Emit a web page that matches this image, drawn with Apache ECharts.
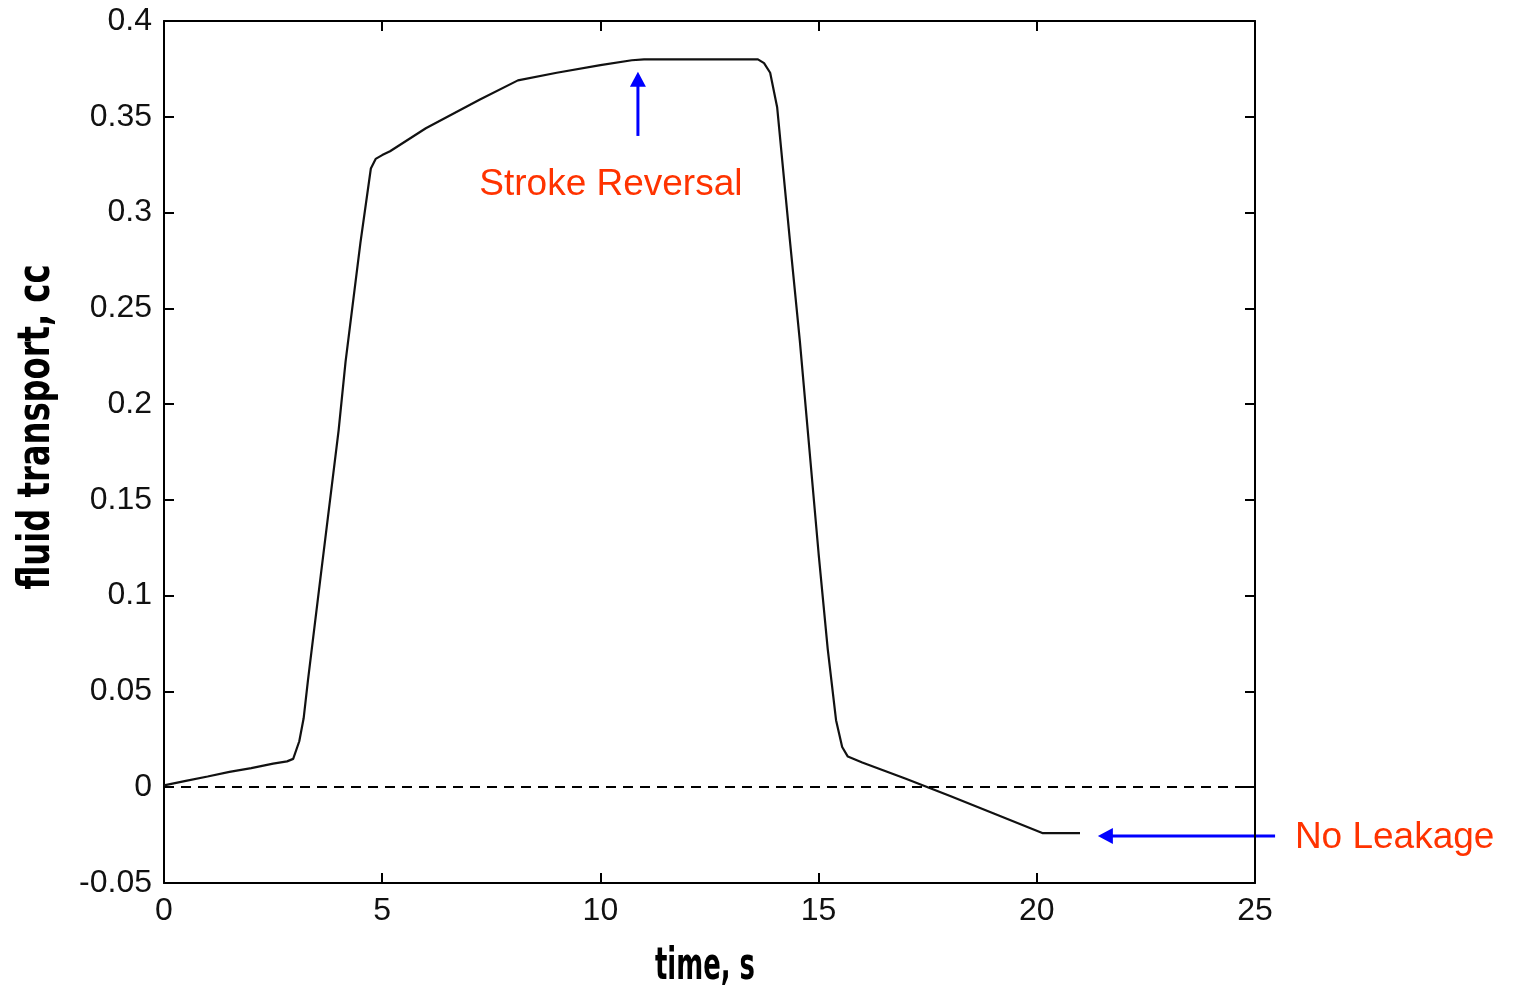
<!DOCTYPE html>
<html>
<head>
<meta charset="utf-8">
<script src="https://cdn.jsdelivr.net/npm/echarts@6/dist/echarts.min.js"></script>
<style>
html,body{margin:0;padding:0;background:#fff;}
#chart{width:1513px;height:991px;}
</style>
</head>
<body>
<div id="chart"></div>
<script>
var timeS = [0, 0.5, 1, 1.5, 2, 2.5, 2.82, 2.96, 3.1, 3.2, 3.3, 3.6, 4.0, 4.16, 4.5, 4.74, 4.85, 5.0, 5.18, 6.0, 7.24, 8.11, 9.0, 10.0, 10.72, 11.0, 12.0, 13.0, 13.61, 13.75, 13.89, 14.05, 14.34, 14.57, 15.0, 15.21, 15.4, 15.54, 15.67, 16.0, 17.0, 17.5, 18.0, 19.0, 20.14, 20.99];
var transport = [0.001, 0.0033, 0.0056, 0.008, 0.010, 0.0123, 0.0135, 0.0148, 0.024, 0.036, 0.056, 0.112, 0.186, 0.222, 0.284, 0.323, 0.328, 0.330, 0.332, 0.344, 0.359, 0.369, 0.373, 0.377, 0.3795, 0.380, 0.380, 0.380, 0.380, 0.378, 0.373, 0.355, 0.286, 0.233, 0.122, 0.072, 0.035, 0.021, 0.016, 0.0129, 0.0044, 0.0, -0.0045, -0.0136, -0.024, -0.024];
var xTicks = [0, 5, 10, 15, 20, 25];
var yTicks = [-0.05, 0, 0.05, 0.1, 0.15, 0.2, 0.25, 0.3, 0.35, 0.4];
var xTitle = 'time, s';
var yTitle = 'fluid transport, cc';

var chart = echarts.init(document.getElementById('chart'));
var tickFont = {fontFamily: 'Liberation Sans, Arial, sans-serif', fontSize: 32, color: '#111'};
var data = timeS.map(function (t, i) { return [t, transport[i]]; });

function yFmt(v) {
  var r = Math.round(v * 100) / 100;
  return String(r);
}

chart.setOption({
  animation: false,
  backgroundColor: '#ffffff',
  grid: {left: 164, right: 258, top: 21, bottom: 108, show: false},
  xAxis: [{
    type: 'value', min: 0, max: 25, interval: 5, position: 'bottom',
    axisLine: {show: true, onZero: false, lineStyle: {color: '#000', width: 2}},
    axisTick: {show: true, inside: true, length: 10, lineStyle: {color: '#000', width: 2}},
    axisLabel: Object.assign({margin: 12}, tickFont),
    splitLine: {show: false}
  }, {
    type: 'value', min: 0, max: 25, interval: 5, position: 'top',
    axisLine: {show: true, onZero: false, lineStyle: {color: '#000', width: 2}},
    axisTick: {show: true, inside: true, length: 10, lineStyle: {color: '#000', width: 2}},
    axisLabel: {show: false}, splitLine: {show: false}
  }],
  yAxis: [{
    type: 'value', min: -0.05, max: 0.4, interval: 0.05, position: 'left',
    axisLine: {show: true, onZero: false, lineStyle: {color: '#000', width: 2}},
    axisTick: {show: true, inside: true, length: 10, lineStyle: {color: '#000', width: 2}},
    axisLabel: Object.assign({margin: 12, formatter: yFmt}, tickFont),
    splitLine: {show: false}
  }, {
    type: 'value', min: -0.05, max: 0.4, interval: 0.05, position: 'right',
    axisLine: {show: true, onZero: false, lineStyle: {color: '#000', width: 2}},
    axisTick: {show: true, inside: true, length: 10, lineStyle: {color: '#000', width: 2}},
    axisLabel: {show: false}, splitLine: {show: false}
  }],
  series: [{
    type: 'line',
    data: data,
    showSymbol: false,
    lineStyle: {color: '#111', width: 2.2},
    markLine: {
      silent: true, symbol: ['none', 'none'],
      label: {show: false},
      lineStyle: {color: '#000', width: 2, type: [10, 7]},
      data: [{yAxis: 0}]
    }
  }]
});

var annotations = {
  upArrow: {x: 10.86, y0: 0.340, y1: 0.3735},
  leftArrow: {y: -0.0255, x0: 25.46, x1: 21.4},
  stroke: {x: 10.24, y: 0.3145, text: 'Stroke Reversal'},
  leak: {x: 28.2, y: -0.0265, text: 'No Leakage'}
};

function px(x, y) { return chart.convertToPixel({gridIndex: 0}, [x, y]); }
var ua0 = px(annotations.upArrow.x, annotations.upArrow.y0);
var ua1 = px(annotations.upArrow.x, annotations.upArrow.y1);
var la0 = px(annotations.leftArrow.x0, annotations.leftArrow.y);
var la1 = px(annotations.leftArrow.x1, annotations.leftArrow.y);
var st = px(annotations.stroke.x, annotations.stroke.y);
var lk = px(annotations.leak.x, annotations.leak.y);
var blue = '#0000ff';
var red = '#ff3300';
var textFont = 'Liberation Sans, Arial, sans-serif';

// axis titles: condensed bold look, scaled horizontally
var titleFontStr = 'bold 44px "DejaVu Sans", sans-serif';
var ctx = document.createElement('canvas').getContext('2d');
ctx.font = titleFontStr;
var xw = ctx.measureText(xTitle).width;
var yw = ctx.measureText(yTitle).width;
var xScale = 100 / xw;
var yScale = 325 / yw;

chart.setOption({
  graphic: [
    {type: 'line', shape: {x1: ua0[0], y1: ua0[1], x2: ua1[0], y2: ua1[1] + 12}, style: {stroke: blue, lineWidth: 3}},
    {type: 'polygon', shape: {points: [[ua1[0], ua1[1]], [ua1[0] - 8, ua1[1] + 15], [ua1[0] + 8, ua1[1] + 15]]}, style: {fill: blue}},
    {type: 'line', shape: {x1: la0[0], y1: la0[1], x2: la1[0] + 12, y2: la1[1]}, style: {stroke: blue, lineWidth: 3}},
    {type: 'polygon', shape: {points: [[la1[0], la1[1]], [la1[0] + 15, la1[1] - 8], [la1[0] + 15, la1[1] + 8]]}, style: {fill: blue}},
    {type: 'text', x: st[0], y: st[1], style: {text: annotations.stroke.text, fill: red, font: '37px ' + textFont, textAlign: 'center', textVerticalAlign: 'middle'}},
    {type: 'text', x: lk[0], y: lk[1], style: {text: annotations.leak.text, fill: red, font: '37px ' + textFont, textAlign: 'center', textVerticalAlign: 'middle'}},
    {type: 'text', x: 705, y: 968, scaleX: xScale, scaleY: 1, style: {text: xTitle, fill: '#000', font: titleFontStr, textAlign: 'center', textVerticalAlign: 'middle'}},
    {type: 'text', x: 38, y: 427, rotation: Math.PI / 2, scaleX: yScale, scaleY: 1, style: {text: yTitle, fill: '#000', font: titleFontStr, textAlign: 'center', textVerticalAlign: 'middle'}}
  ]
});
</script>
</body>
</html>
